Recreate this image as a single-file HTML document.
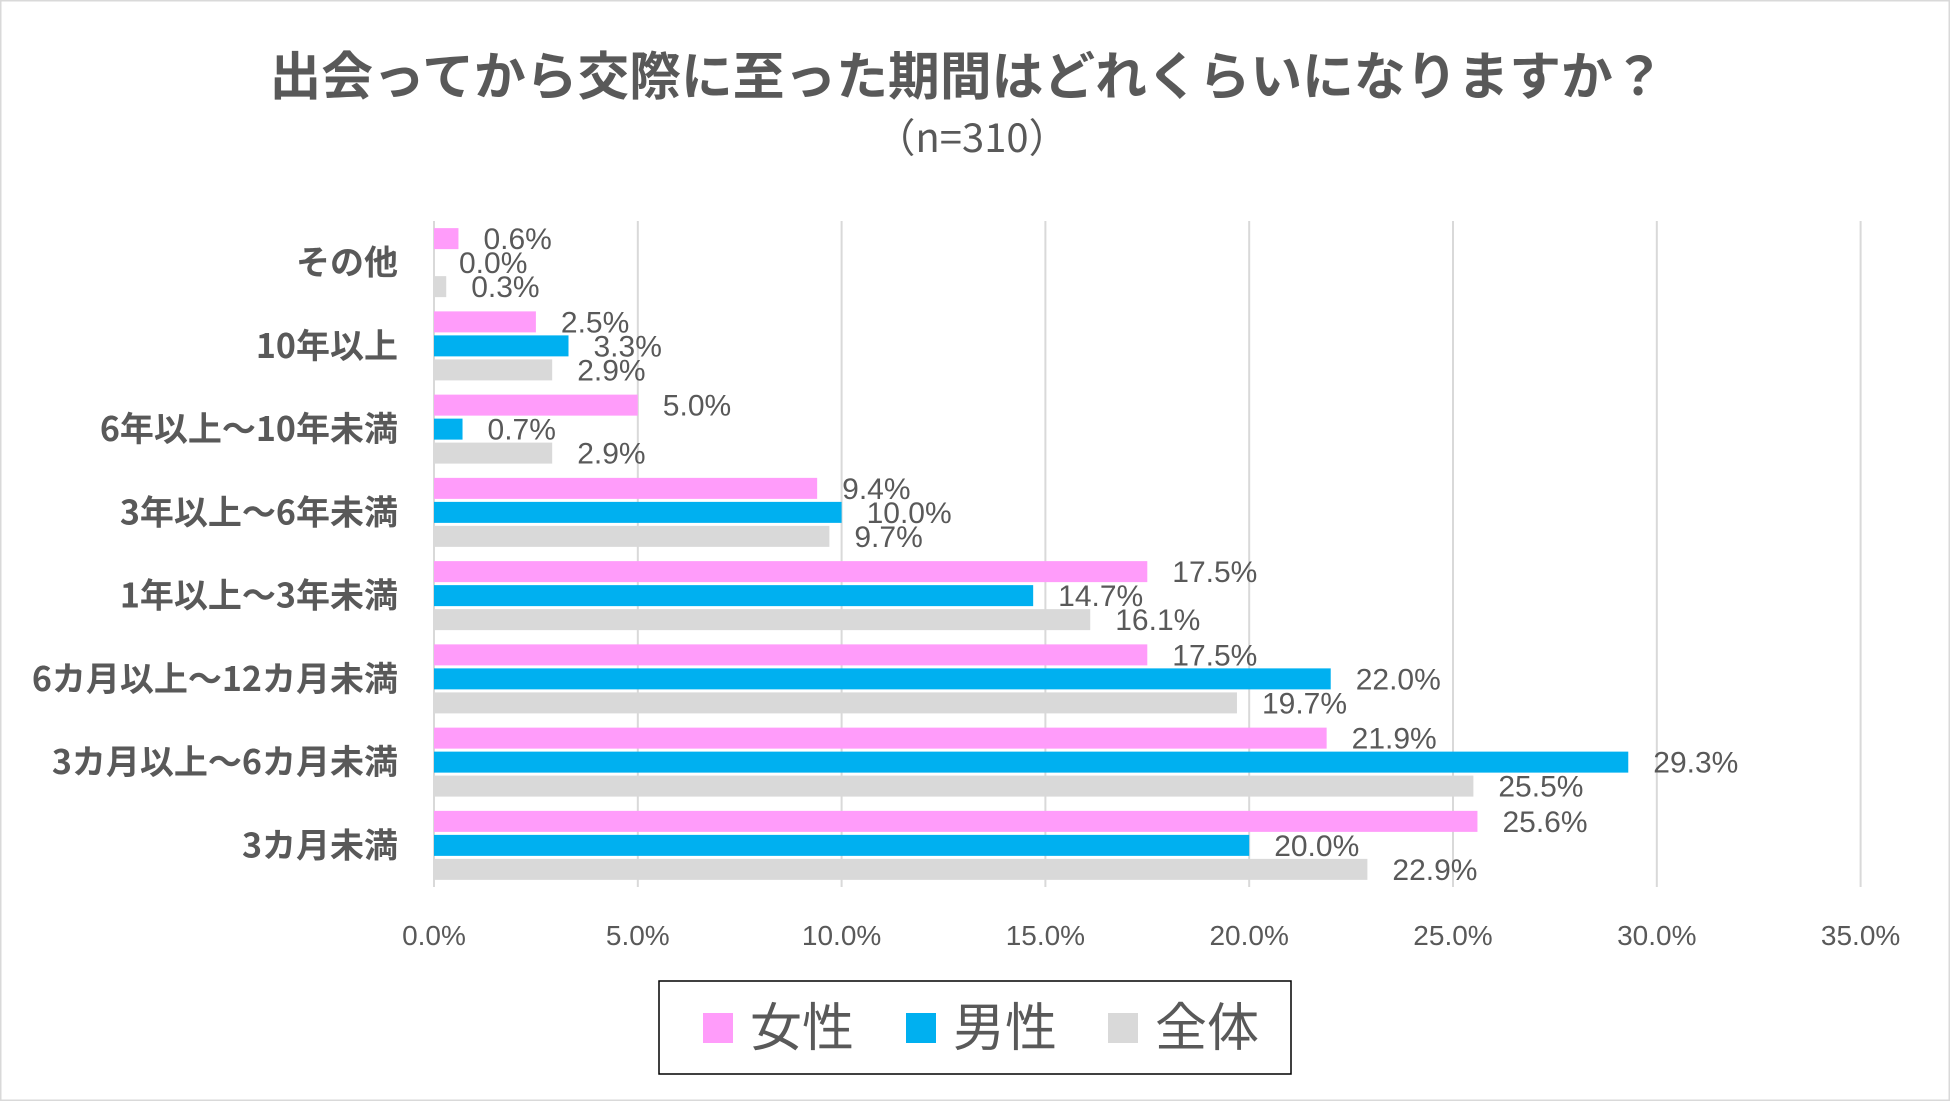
<!DOCTYPE html>
<html><head><meta charset="utf-8"><style>
html,body{margin:0;padding:0;background:#fff}
svg{display:block}
text{font-family:"Liberation Sans","Noto Sans CJK JP",sans-serif;fill:#595959}
</style></head><body>
<svg id="chart" width="1950" height="1101" viewBox="0 0 1950 1101" xmlns="http://www.w3.org/2000/svg">
<rect x="0.5" y="0.5" width="1949" height="1100" fill="#fff" stroke="#d9d9d9" stroke-width="2"/>
<text x="967" y="95" font-size="52" font-weight="bold" text-anchor="middle" textLength="1395" lengthAdjust="spacingAndGlyphs" style="font-family:'Noto Sans CJK JP',sans-serif">出会ってから交際に至った期間はどれくらいになりますか？</text>
<text x="972" y="152" font-size="40" text-anchor="middle" style="font-family:'Noto Sans CJK JP',sans-serif">（n=310）</text>
<g id="grid"></g><g id="bars"></g><g id="labels"></g>
<g>
<rect x="659" y="981" width="632" height="93" fill="#fff" stroke="#000" stroke-width="1.5"/>
<g><rect x="703" y="1013" width="30" height="30" fill="#ff9cfa"/><text x="750" y="1046" font-size="52" style="font-family:'Noto Sans CJK JP',sans-serif">女性</text></g>
<g><rect x="906" y="1013" width="30" height="30" fill="#00b0f0"/><text x="953" y="1046" font-size="52" style="font-family:'Noto Sans CJK JP',sans-serif">男性</text></g>
<g><rect x="1108" y="1013" width="30" height="30" fill="#d9d9d9"/><text x="1155" y="1046" font-size="52" style="font-family:'Noto Sans CJK JP',sans-serif">全体</text></g>
</g>
</svg>
<script>
const categories=["その他","10年以上","6年以上～10年未満","3年以上～6年未満","1年以上～3年未満","6カ月以上～12カ月未満","3カ月以上～6カ月未満","3カ月未満"];
const female=[0.6,2.5,5.0,9.4,17.5,17.5,21.9,25.6];
const male=[0.0,3.3,0.7,10.0,14.7,22.0,29.3,20.0];
const total=[0.3,2.9,2.9,9.7,16.1,19.7,25.5,22.9];
const xTicks=[0,5,10,15,20,25,30,35];
const NS="http://www.w3.org/2000/svg";
const X0=434,PX=40.76,TOP=221,BOT=887;
const band=(BOT-TOP)/categories.length;
const xs=v=>X0+v*PX;
const bandCenter=i=>TOP+band*(i+0.5);
function mk(tag,attrs,parent){const e=document.createElementNS(NS,tag);for(const k in attrs)e.setAttribute(k,attrs[k]);parent.appendChild(e);return e;}
const grid=document.getElementById('grid'),bars=document.getElementById('bars'),labels=document.getElementById('labels');
xTicks.forEach(t=>{
  const l=mk('line',{x1:xs(t),x2:xs(t),y1:TOP,y2:BOT,stroke:'#d9d9d9','stroke-width':2},grid);
  
  
  const tx=mk('text',{x:xs(t),y:945,'font-size':28,'text-anchor':'middle'},grid);
  tx.textContent=t.toFixed(1)+'%';
  
  
});
const series=[[female,'#ff9cfa','female'],[male,'#00b0f0','male'],[total,'#d9d9d9','total']];
categories.forEach((c,i)=>{
  const cy=bandCenter(i);
  const ct=mk('text',{x:398,y:cy+12,'font-size':34,'font-weight':'bold','text-anchor':'end',style:"font-family:'Noto Sans CJK JP',sans-serif"},labels);
  ct.textContent=c;
  
  
  series.forEach((s,j)=>{
    const v=s[0][i];
    const y=cy-34.5+j*24;
    const r=mk('rect',{x:X0,y:y,width:Math.max(0,xs(v)-X0),height:21,fill:s[1]},bars);
    
    
    const t=mk('text',{x:xs(v)+25,y:y+21,'font-size':30},labels);
    t.textContent=v.toFixed(1)+'%';
    
    
  });
});
</script>
</body></html>
